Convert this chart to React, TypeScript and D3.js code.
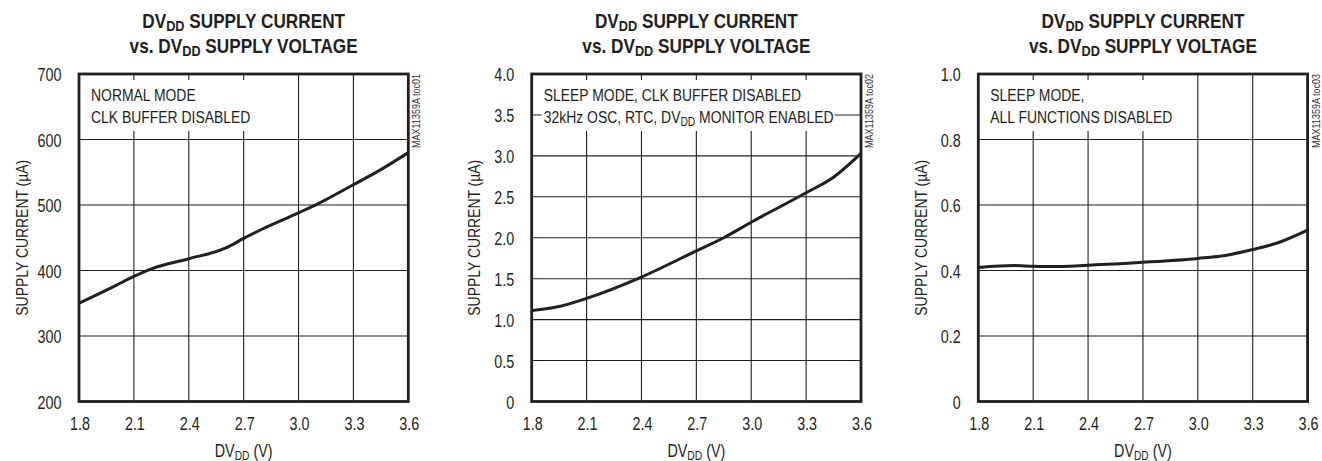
import React from "react";
import * as d3 from "d3";

// ---------- data ----------
const xTicks = [1.8, 2.1, 2.4, 2.7, 3.0, 3.3, 3.6];

const normalVdd = [1.8, 2.0, 2.1, 2.2, 2.4, 2.6, 2.7, 2.8, 3.0, 3.1, 3.3, 3.45, 3.6];
const normalCurrent = [350, 377, 391, 403, 418, 434, 449, 463, 488, 501, 531, 554, 580];
const normalYTicks = [200, 300, 400, 500, 600, 700];

const sleepVdd = [1.8, 1.95, 2.1, 2.4, 2.7, 2.85, 3.0, 3.3, 3.45, 3.6];
const sleepCurrent = [1.11, 1.16, 1.26, 1.52, 1.84, 2.0, 2.19, 2.55, 2.74, 3.03];
const sleepYTicks = [0, 0.5, 1.0, 1.5, 2.0, 2.5, 3.0, 3.5, 4.0];

const offVdd = [1.8, 2.0, 2.1, 2.2, 2.4, 2.7, 3.0, 3.15, 3.3, 3.45, 3.6];
const offCurrent = [0.409, 0.415, 0.413, 0.412, 0.416, 0.425, 0.437, 0.446, 0.464, 0.487, 0.523];
const offYTicks = [0, 0.2, 0.4, 0.6, 0.8, 1.0];

const sideLabels = ["MAX11359A toc01", "MAX11359A toc02", "MAX11359A toc03"];

// ---------- layout ----------
const FONT = "'Liberation Sans', Arial, sans-serif";
const INK = "#231f20";
const TOP = 74;
const BOTTOM = 401.5;
const PW = 329.3;
const SX = 0.82; // condensed look

type Part = [string, boolean]; // [text, isSubscript]

function Rich({ parts, size, subSize, shift }: { parts: Part[]; size: number; subSize: number; shift: number }) {
  let cur = 0;
  return (
    <>
      {parts.map(([s, isSub], i) => {
        const target = isSub ? shift : 0;
        const dy = target - cur;
        cur = target;
        return (
          <tspan key={i} dy={dy || undefined} fontSize={isSub ? subSize : size}>
            {s}
          </tspan>
        );
      })}
    </>
  );
}

function T({
  x,
  y,
  rot = 0,
  anchor = "start",
  size,
  weight,
  fill,
  children,
}: {
  x: number;
  y: number;
  rot?: number;
  anchor?: string;
  size: number;
  weight?: string;
  fill?: string;
  children: React.ReactNode;
}) {
  return (
    <text
      transform={`translate(${x},${y})${rot ? ` rotate(${rot})` : ""} scale(${SX},1)`}
      textAnchor={anchor}
      fontSize={size}
      fontWeight={weight}
      fill={fill}
      style={{ whiteSpace: "pre" }}
    >
      {children}
    </text>
  );
}

type Panel = {
  left: number;
  xs: number[];
  ys: number[];
  domain: [number, number];
  yTicks: number[];
  fmt: (v: number) => string;
  legend: Part[][];
  box: [number, number];
  side: string;
};

const fmt0 = (v: number) => String(v);
const fmt1 = (v: number) => (v === 0 ? "0" : d3.format(".1f")(v));

const panels: Panel[] = [
  {
    left: 79,
    xs: normalVdd,
    ys: normalCurrent,
    domain: [200, 700],
    yTicks: normalYTicks,
    fmt: fmt0,
    legend: [[["NORMAL MODE", false]], [["CLK BUFFER DISABLED", false]]],
    box: [3, 171],
    side: sideLabels[0],
  },
  {
    left: 531.7,
    xs: sleepVdd,
    ys: sleepCurrent,
    domain: [0, 4],
    yTicks: sleepYTicks,
    fmt: fmt1,
    legend: [
      [["SLEEP MODE, CLK BUFFER DISABLED", false]],
      [
        ["32kHz OSC, RTC, DV", false],
        ["DD", true],
        [" MONITOR ENABLED", false],
      ],
    ],
    box: [10, 303],
    side: sideLabels[1],
  },
  {
    left: 978.3,
    xs: offVdd,
    ys: offCurrent,
    domain: [0, 1],
    yTicks: offYTicks,
    fmt: fmt1,
    legend: [[["SLEEP MODE,", false]], [["ALL FUNCTIONS DISABLED", false]]],
    box: [3, 197],
    side: sideLabels[2],
  },
];

function Chart({ p }: { p: Panel }) {
  const x = d3.scaleLinear().domain([1.8, 3.6]).range([p.left, p.left + PW]);
  const y = d3.scaleLinear().domain(p.domain).range([BOTTOM, TOP]);
  const pts = p.xs.map((v, i) => [v, p.ys[i]] as [number, number]);
  const line = d3
    .line<[number, number]>()
    .x((d) => x(d[0]))
    .y((d) => y(d[1]))
    .curve(d3.curveMonotoneX);
  const cx = p.left + PW / 2;
  const right = p.left + PW;
  return (
    <g fontFamily={FONT} fill={INK}>
      {/* title */}
      <T x={cx} y={28} anchor="middle" size={21} weight="bold">
        <Rich parts={[["DV", false], ["DD", true], [" SUPPLY CURRENT", false]]} size={21} subSize={15.5} shift={2.5} />
      </T>
      <T x={cx} y={53} anchor="middle" size={21} weight="bold">
        <Rich
          parts={[["vs. DV", false], ["DD", true], [" SUPPLY VOLTAGE", false]]}
          size={21}
          subSize={15.5}
          shift={2.5}
        />
      </T>
      {/* grid */}
      {p.yTicks.map((t) => (
        <line key={"h" + t} x1={p.left} x2={right} y1={y(t)} y2={y(t)} stroke={INK} strokeWidth={1.1} />
      ))}
      {xTicks.map((t) => (
        <line key={"v" + t} x1={x(t)} x2={x(t)} y1={TOP} y2={BOTTOM} stroke={INK} strokeWidth={1.1} />
      ))}
      {/* legend box */}
      <rect x={p.left + p.box[0]} y={80} width={p.box[1] - p.box[0]} height={51} fill="#fff" />
      {p.legend.map((l, i) => (
        <T key={i} x={p.left + 12} y={100.5 + i * 22.5} size={17}>
          <Rich parts={l} size={17} subSize={12.5} shift={3} />
        </T>
      ))}
      {/* curve */}
      <path d={line(pts) || ""} fill="none" stroke={INK} strokeWidth={3} strokeLinejoin="round" />
      {/* frame */}
      <rect x={p.left} y={TOP} width={PW} height={BOTTOM - TOP} fill="none" stroke={INK} strokeWidth={2.8} />
      {/* y ticks */}
      {p.yTicks.map((t) => (
        <T key={"yl" + t} x={p.left - 17.5} y={y(t) + 7} anchor="end" size={17.5}>
          {p.fmt(t)}
        </T>
      ))}
      {/* x ticks */}
      {xTicks.map((t) => (
        <T key={"xl" + t} x={x(t) + 1} y={430} anchor="middle" size={17.5}>
          {d3.format(".1f")(t)}
        </T>
      ))}
      {/* axis titles */}
      <T x={cx} y={457} anchor="middle" size={17.5}>
        <Rich parts={[["DV", false], ["DD", true], [" (V)", false]]} size={17.5} subSize={12.5} shift={2.5} />
      </T>
      <T x={p.left - 51.5} y={(TOP + BOTTOM) / 2} rot={-90} anchor="middle" size={17}>
        SUPPLY CURRENT (µA)
      </T>
      {/* side label */}
      <T x={right + 12} y={74} rot={-90} anchor="end" size={11} fill="#333">
        {p.side}
      </T>
    </g>
  );
}

export default function App() {
  return (
    <svg
      width={1322}
      height={461}
      viewBox="0 0 1322 461"
      style={{ position: "absolute", left: 0, top: 0, background: "#fff" }}
    >
      <rect width={1322} height={461} fill="#fff" />
      {panels.map((p, i) => (
        <Chart key={i} p={p} />
      ))}
    </svg>
  );
}
